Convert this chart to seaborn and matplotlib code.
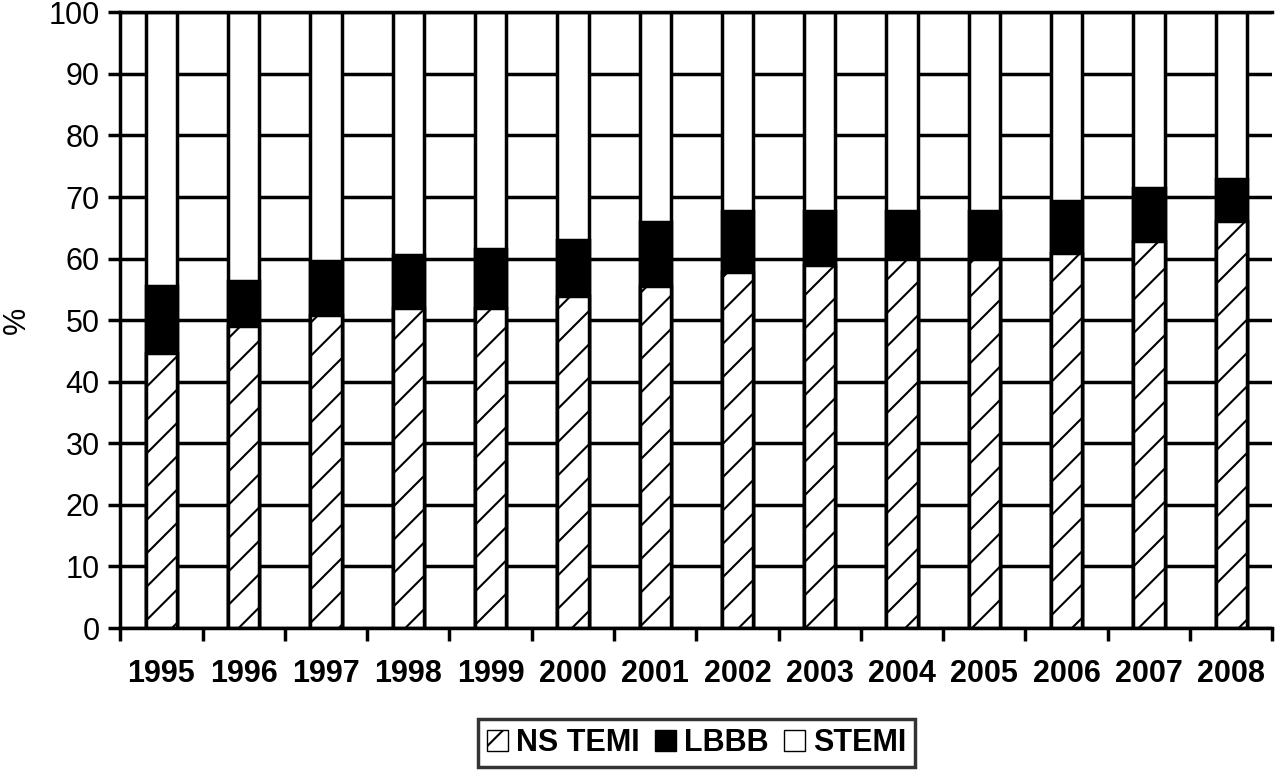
import pandas as pd
import matplotlib
matplotlib.use('Agg')
import matplotlib.pyplot as plt
import seaborn as sns
from matplotlib.patches import Patch
from matplotlib.ticker import FixedLocator

years = ['1995', '1996', '1997', '1998', '1999', '2000', '2001',
         '2002', '2003', '2004', '2005', '2006', '2007', '2008']
ns_temi = [44.7, 49.0, 50.9, 51.9, 51.9, 53.9, 55.6,
           57.9, 59.0, 60.0, 60.0, 60.9, 62.9, 66.1]
lbbb = [10.9, 7.3, 8.7, 8.7, 9.7, 9.1, 10.3,
        9.8, 8.7, 7.7, 7.7, 8.4, 8.6, 6.9]
stemi = [100 - a - b for a, b in zip(ns_temi, lbbb)]

df = pd.DataFrame({'year': years, 'NS TEMI': ns_temi, 'LBBB': lbbb, 'STEMI': stemi})
df['lbbb_top'] = df['NS TEMI'] + df['LBBB']
df['stemi_top'] = df['lbbb_top'] + df['STEMI']

sns.set_style('white')
plt.rcParams['font.family'] = ['Liberation Sans', 'DejaVu Sans']
plt.rcParams['hatch.linewidth'] = 1.5
plt.rcParams['hatch.color'] = 'black'
for k in ['text.color', 'axes.labelcolor', 'xtick.color', 'ytick.color']:
    plt.rcParams[k] = 'black'

fig = plt.figure(figsize=(12.8, 7.72), dpi=100)
ax = fig.add_axes([0.094, 0.1865, 0.900, 0.7975])

lw = 2.5
sns.barplot(data=df, x='year', y='stemi_top', color='white', edgecolor='black',
            linewidth=lw, width=0.38, ax=ax, saturation=1)
sns.barplot(data=df, x='year', y='lbbb_top', color='black', edgecolor='black',
            linewidth=lw, width=0.38, ax=ax, saturation=1)
sns.barplot(data=df, x='year', y='NS TEMI', color='white', edgecolor='black',
            linewidth=lw, width=0.38, ax=ax, saturation=1)
for p in ax.containers[-1]:
    p.set_hatch('/')

ax.set_ylim(0, 100)
ax.set_xlim(-0.5, len(years) - 0.5)
ax.set_yticks(range(0, 101, 10))
ax.yaxis.grid(True, color='black', linewidth=lw)
ax.set_axisbelow(True)

for s in ['top', 'left', 'bottom']:
    ax.spines[s].set_color('black')
    ax.spines[s].set_linewidth(lw)
ax.spines['right'].set_visible(False)

ax.tick_params(axis='y', direction='out', length=9, width=lw, labelsize=22, pad=6, left=True)
ax.tick_params(axis='x', which='major', length=0, labelsize=22, pad=22)
ax.xaxis.set_minor_locator(FixedLocator([i - 0.5 for i in range(len(years) + 1)]))
ax.tick_params(axis='x', which='minor', direction='out', length=9, width=lw, bottom=True)
for t in ax.get_xticklabels():
    t.set_fontweight('bold')

ax.set_xlabel('')
ax.set_ylabel('%', fontsize=22, labelpad=12)

handles = [Patch(facecolor='white', edgecolor='black', hatch='/', label='NS TEMI'),
           Patch(facecolor='black', edgecolor='black', label='LBBB'),
           Patch(facecolor='white', edgecolor='black', label='STEMI')]
leg = fig.legend(handles=handles, loc='upper center', bbox_to_anchor=(0.544, 0.069),
                 ncol=3, frameon=True, fancybox=False, handlelength=0.7, handleheight=0.7,
                 handletextpad=0.25, columnspacing=0.5, borderpad=0.3, borderaxespad=0,
                 prop={'size': 22, 'weight': 'bold'})
leg.get_frame().set_edgecolor('black')
leg.get_frame().set_linewidth(lw)

fig.savefig('out.png', dpi=100)
